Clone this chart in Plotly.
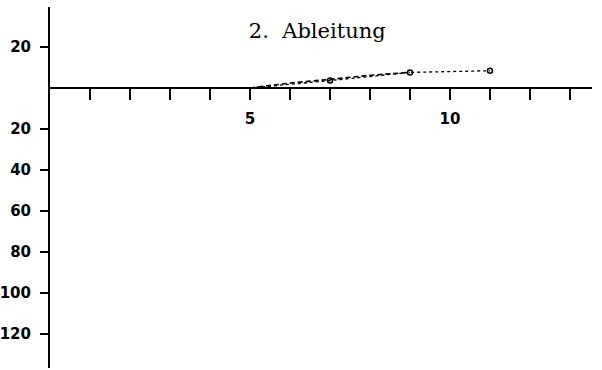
import plotly.graph_objects as go

# data
x_dashed = [5, 6, 7, 8, 9]
y_dashed = [0, 2.4, 4.2, 6.2, 7.6]

x_dotted = [5, 7, 9, 11]
y_dotted = [0, 3.6, 7.6, 8.4]

x_marks = [7, 9, 11]
y_marks = [3.6, 7.6, 8.4]

x_ticks = list(range(1, 14))
x_ticktext = ["5" if v == 5 else "10" if v == 10 else "" for v in x_ticks]
y_ticks = [20, -20, -40, -60, -80, -100, -120]
y_ticktext = ["20", "20", "40", "60", "80", "100", "120"]

x_range = [0, 13.55]
y_range = [-136.6, 39.5]

fig = go.Figure()

fig.add_trace(go.Scatter(
    x=x_dashed, y=y_dashed, mode="lines",
    line=dict(color="black", width=1.6, dash="5px,3px"),
    showlegend=False
))
fig.add_trace(go.Scatter(
    x=x_dotted, y=y_dotted, mode="lines",
    line=dict(color="black", width=1.3, dash="dot"),
    showlegend=False
))
fig.add_trace(go.Scatter(
    x=x_marks, y=y_marks, mode="markers",
    marker=dict(symbol="circle-open", size=5, color="black", line=dict(width=1.5)),
    showlegend=False
))

tick_font = dict(family="DejaVu Sans", size=15, color="black", weight="bold")

fig.update_layout(
    width=602, height=370,
    margin=dict(l=50, r=10, t=7, b=2),
    paper_bgcolor="white",
    plot_bgcolor="white",
    title=dict(
        text="2.  Ableitung",
        x=0.527, y=1 - 31 / 370, xanchor="center", yanchor="middle",
        font=dict(family="DejaVu Serif", size=21, color="black"),
        automargin=False
    ),
    xaxis=dict(
        range=x_range,
        anchor="free",
        position=(0 - y_range[0]) / (y_range[1] - y_range[0]),
        showline=True, linecolor="black", linewidth=2,
        ticks="outside", ticklen=11, tickwidth=1.5, tickcolor="black",
        tickvals=x_ticks, ticktext=x_ticktext,
        tickfont=tick_font,
        ticklabelstandoff=6,
        showgrid=False, zeroline=False, automargin=False
    ),
    yaxis=dict(
        range=y_range,
        showline=True, linecolor="black", linewidth=2,
        ticks="outside", ticklen=8, tickwidth=1.5, tickcolor="black",
        tickvals=y_ticks, ticktext=y_ticktext,
        tickfont=tick_font,
        ticklabelstandoff=6,
        showgrid=False, zeroline=False, automargin=False
    ),
)

# page has a default 8px body margin; drop it so the plot sits at the window corner
fig.write_html("out.html", config={"displayModeBar": False},
               post_script="document.body.style.margin='0';")
